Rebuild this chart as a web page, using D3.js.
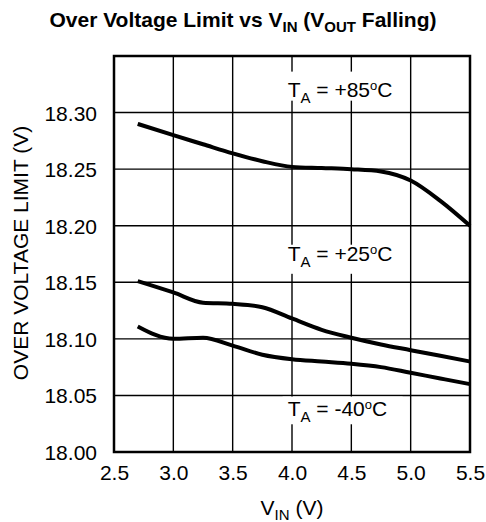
<!DOCTYPE html>
<html><head><meta charset="utf-8">
<script src="https://cdn.jsdelivr.net/npm/d3@7"></script>
<style>body{margin:0;background:#fff}svg{display:block}text{font-family:"Liberation Sans",Arial,sans-serif;fill:#000}</style>
</head><body><svg id="c" width="486" height="522"></svg>
<script>
const vin = [2.7, 3.0, 3.25, 3.5, 3.75, 4.0, 4.25, 4.5, 4.75, 5.0, 5.25, 5.5];
const t85 = [18.290, 18.280, 18.272, 18.264, 18.257, 18.252, 18.251, 18.250, 18.248, 18.240, 18.222, 18.200];
const t25 = [18.151, 18.141, 18.132, 18.131, 18.128, 18.118, 18.108, 18.101, 18.095, 18.090, 18.085, 18.080];
const tm40 = [18.111, 18.100, 18.101, 18.094, 18.086, 18.082, 18.080, 18.078, 18.075, 18.070, 18.065, 18.060];
const xTicks = [2.5, 3.0, 3.5, 4.0, 4.5, 5.0, 5.5];
const yTicks = [18.00, 18.05, 18.10, 18.15, 18.20, 18.25, 18.30];
const seriesLabels = [
  {temp: "+85", x: 3.98, y: 18.3138, top: 18.3362, bottom: 18.3105},
  {temp: "+25", x: 3.98, y: 18.1688, top: 18.1832, bottom: 18.1575},
  {temp: "-40", x: 3.98, y: 18.0318, top: 18.0490, bottom: 18.0245}
];

const svg = d3.select("#c");
const L = 114, R = 470, T = 56, B = 452;
const x = d3.scaleLinear().domain([2.5, 5.5]).range([L, R]);
const y = d3.scaleLinear().domain([18.00, 18.35]).range([B, T]);

// grid
const g = svg.append("g");
g.selectAll("line.v").data(xTicks.slice(1, -1)).join("line")
  .attr("x1", d => x(d)).attr("x2", d => x(d)).attr("y1", T).attr("y2", B)
  .attr("stroke", "#000").attr("stroke-width", 1.4);
g.selectAll("line.h").data(yTicks.slice(1)).join("line")
  .attr("x1", L).attr("x2", R).attr("y1", d => y(d)).attr("y2", d => y(d))
  .attr("stroke", "#000").attr("stroke-width", 1.4);

// label boxes (white backgrounds interrupting the grid)
svg.append("g").selectAll("rect").data(seriesLabels).join("rect")
  .attr("x", d => x(d.x) - 7).attr("width", 120)
  .attr("y", d => y(d.top)).attr("height", d => y(d.bottom) - y(d.top))
  .attr("fill", "#fff");

// frame
svg.append("rect").attr("x", L).attr("y", T).attr("width", R - L).attr("height", B - T)
  .attr("fill", "none").attr("stroke", "#000").attr("stroke-width", 2.5);

// curves
const line = d3.line().x((d, i) => x(vin[i])).y(d => y(d)).curve(d3.curveMonotoneX);
svg.append("g").selectAll("path").data([t85, t25, tm40]).join("path")
  .attr("d", line).attr("fill", "none").attr("stroke", "#000").attr("stroke-width", 4);

// axes tick labels
const xAxis = d3.axisBottom(x).tickValues(xTicks).tickFormat(d3.format(".1f")).tickSize(0).tickPadding(0);
const xa = svg.append("g").attr("transform", `translate(0,${B})`).call(xAxis);
xa.select(".domain").remove();
xa.selectAll("text").attr("dy", null).attr("y", 28).attr("font-size", 21).attr("font-family", null);

const yAxis = d3.axisLeft(y).tickValues(yTicks).tickFormat(d3.format(".2f")).tickSize(0).tickPadding(0);
const ya = svg.append("g").attr("transform", `translate(${L},0)`).call(yAxis);
ya.select(".domain").remove();
ya.selectAll("text").attr("x", -17).attr("dy", "0.36em").attr("font-size", 21).attr("font-family", null);

// series labels
seriesLabels.forEach(s => {
  const t = svg.append("text").attr("x", x(s.x) - 2).attr("y", y(s.y)).attr("font-size", 21);
  t.append("tspan").text("T");
  t.append("tspan").attr("font-size", 15).attr("dy", 6).text("A");
  t.append("tspan").attr("dy", -6).text(" = " + s.temp);
  t.append("tspan").attr("font-size", 13).attr("dy", -7).text("o");
  t.append("tspan").attr("dy", 7).text("C");
});

// title
const tt = svg.append("text").attr("x", 243).attr("y", 27).attr("text-anchor", "middle")
  .attr("font-size", 21).attr("font-weight", "bold");
tt.append("tspan").text("Over Voltage Limit vs V");
tt.append("tspan").attr("font-size", 15).attr("dy", 5).text("IN");
tt.append("tspan").attr("dy", -5).text(" (V");
tt.append("tspan").attr("font-size", 15).attr("dy", 5).text("OUT");
tt.append("tspan").attr("dy", -5).text(" Falling)");

// x title
const xt = svg.append("text").attr("x", x(4.0)).attr("y", 515).attr("text-anchor", "middle").attr("font-size", 21);
xt.append("tspan").text("V");
xt.append("tspan").attr("font-size", 15).attr("dy", 5).text("IN");
xt.append("tspan").attr("dy", -5).text(" (V)");

// y title
svg.append("text").attr("transform", "translate(28,253) rotate(-90)").attr("text-anchor", "middle")
  .attr("font-size", 21).text("OVER VOLTAGE LIMIT (V)");
</script></body></html>
